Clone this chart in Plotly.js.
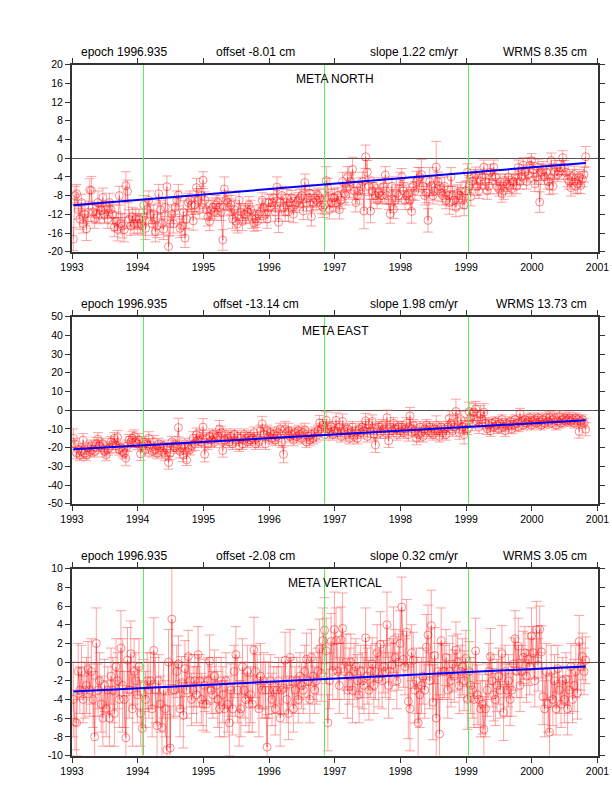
<!DOCTYPE html>
<html><head><meta charset="utf-8">
<script src="https://cdn.plot.ly/plotly-3.0.1.min.js"></script>
<style>html,body{margin:0;padding:0;background:#fff}</style></head>
<body><div id="chart" style="width:612px;height:792px"></div>
<script>
const epochs1993=[1993.02,1993.045,1993.07,1993.095,1993.12,1993.145,1993.17,1993.195,1993.22,1993.245,1993.27,1993.295,1993.32,1993.345,1993.37,1993.395,1993.42,1993.445,1993.47,1993.495,1993.52,1993.545,1993.57,1993.595,1993.62,1993.645,1993.67,1993.695,1993.72,1993.745,1993.77,1993.795,1993.82,1993.845,1993.87,1993.895,1993.92,1993.945,1993.97,1993.995];
const epochs1994=[1994.02,1994.045,1994.07,1994.095,1994.12,1994.145,1994.17,1994.195,1994.22,1994.245,1994.27,1994.295,1994.32,1994.345,1994.37,1994.395,1994.42,1994.445,1994.47,1994.495,1994.52,1994.545,1994.57,1994.595,1994.62,1994.645,1994.67,1994.695,1994.72,1994.745,1994.77,1994.795,1994.82,1994.845,1994.87,1994.895,1994.92,1994.945,1994.97,1994.995];
const epochs1995=[1995.02,1995.045,1995.07,1995.095,1995.12,1995.145,1995.17,1995.195,1995.22,1995.245,1995.27,1995.295,1995.32,1995.345,1995.37,1995.395,1995.42,1995.445,1995.47,1995.495,1995.52,1995.545,1995.57,1995.595,1995.62,1995.645,1995.67,1995.695,1995.72,1995.745,1995.77,1995.795,1995.82,1995.845,1995.87,1995.895,1995.92,1995.945,1995.97,1995.995];
const epochs1996=[1996.02,1996.045,1996.07,1996.095,1996.12,1996.145,1996.17,1996.195,1996.22,1996.245,1996.27,1996.295,1996.32,1996.345,1996.37,1996.395,1996.42,1996.445,1996.47,1996.495,1996.52,1996.545,1996.57,1996.595,1996.62,1996.645,1996.67,1996.695,1996.72,1996.745,1996.77,1996.795,1996.82,1996.845,1996.87,1996.895,1996.92,1996.945,1996.97,1996.995];
const epochs1997=[1997.02,1997.045,1997.07,1997.095,1997.12,1997.145,1997.17,1997.195,1997.22,1997.245,1997.27,1997.295,1997.32,1997.345,1997.37,1997.395,1997.42,1997.445,1997.47,1997.495,1997.52,1997.545,1997.57,1997.595,1997.62,1997.645,1997.67,1997.695,1997.72,1997.745,1997.77,1997.795,1997.82,1997.845,1997.87,1997.895,1997.92,1997.945,1997.97,1997.995];
const epochs1998=[1998.02,1998.045,1998.07,1998.095,1998.12,1998.145,1998.17,1998.195,1998.22,1998.245,1998.27,1998.295,1998.32,1998.345,1998.37,1998.395,1998.42,1998.445,1998.47,1998.495,1998.52,1998.545,1998.57,1998.595,1998.62,1998.645,1998.67,1998.695,1998.72,1998.745,1998.77,1998.795,1998.82,1998.845,1998.87,1998.895,1998.92,1998.945,1998.97,1998.995];
const epochs1999=[1999.02,1999.045,1999.07,1999.095,1999.12,1999.145,1999.17,1999.195,1999.22,1999.245,1999.27,1999.295,1999.32,1999.345,1999.37,1999.395,1999.42,1999.445,1999.47,1999.495,1999.52,1999.545,1999.57,1999.595,1999.62,1999.645,1999.67,1999.695,1999.72,1999.745,1999.77,1999.795,1999.82,1999.845,1999.87,1999.895,1999.92,1999.945,1999.97,1999.995];
const epochs2000=[2000.02,2000.045,2000.07,2000.095,2000.12,2000.145,2000.17,2000.195,2000.22,2000.245,2000.27,2000.295,2000.32,2000.345,2000.37,2000.395,2000.42,2000.445,2000.47,2000.495,2000.52,2000.545,2000.57,2000.595,2000.62,2000.645,2000.67,2000.695,2000.72,2000.745,2000.77,2000.795,2000.82];

const north1993=[-17.3,-8,-7.6,-11,-13,-9.5,-14,-12,-15.1,-11.6,-6.8,-6.9,-11.5,-13,-12,-9.5,-12,-11.2,-8.4,-12,-11,-13,-9.5,-11,-12,-14.8,-13.5,-15.2,-8,-14,-14.5,-15.3,-5.9,-7.1,-13,-14.5,-12.5,-14,-13,-14];
const north1994=[-13,-14,-14.5,-10,-15,-11,-9,-12,-14,-12,-15.7,-14.5,-7.6,-11,-14,-15.2,-10.5,-6.1,-18.9,-14,-12,-14,-10.5,-9,-7.9,-15,-14.5,-11.5,-17.1,-13,-9.5,-9,-10,-13.4,-10,-6.3,-9,-11,-8,-4.7];
const north1995=[-9,-11,-12.5,-13.5,-11,-10.5,-11.5,-10,-9.5,-10.5,-11.5,-17.5,-6.6,-9,-9.5,-10.5,-10,-13,-11,-13.5,-14,-9,-11.5,-13.5,-12,-12,-11.5,-10,-11,-13,-13.8,-13,-13.5,-12,-11.5,-9,-10.5,-12,-13,-9.5];
const north1996=[-10.5,-9.5,-8.5,-11.5,-6.2,-13.7,-9.5,-8,-10.5,-11.5,-8.5,-11.5,-9.5,-8.5,-12,-10,-9.5,-9,-8.5,-8,-11.3,-5.2,-9.5,-8.5,-7.5,-12.5,-9.5,-8.5,-9,-8,-8.5,-10,-10.5,-10,-4.8,-6.5,-11,-9.5,-8.5,-8.5];
const north1997=[-9.5,-8,-11,-9,-5,-7.5,-8,-4,-6,-5,-2.4,-7,-9.5,-8,-7,-6,-5,-11.3,0.3,-3,-6,-11.3,-7,-6,-8,-9,-7.5,-8,-8,-6,-3.6,-8,-9,-11.9,-6,-10.9,-9,-7.5,-8,-5];
const north1998=[-4,-7,-9,-8,-7.5,-9,-11.4,-6,-7,-5,-4.5,-4,-3.5,-6,-8,-7.5,-13.3,-5,-6,-8,-7,-1.9,-5,-6,-7.5,-8,-6,-9,-8,-9.5,-4,-8,-9,-10.5,-7.5,-8,-7,-9,-10,-7];
const north1999=[-3,-6,-8.2,-5,-4,-3.5,-6,-7,-5,-4,-1.9,-5,-7,-6,-3,-4,-1.9,-4,-6,-6.5,-5,-7.6,-7,-5,-5.5,-4,-6,-6.5,-5,-4,-6,-2,-5,-4,-1.5,-3,-5,-3.5,-1.5,-0.5];
const north2000=[-2.5,-5.5,-4,-2,-9.4,-3,-2.5,-4,-3,-5,-6,-0.5,-6,-3,-2,-3.5,-3,-2,0.1,-2,-3,-4.5,-5,-6.3,-4,-3.5,-6,-5.5,-4,-5.8,-4.5,-3.5,0.3];

const sigN1993=[2.5,2,2,2,2.2,1.8,2,2,2.5,2,2.4,3,2,2,2,2.5,1.8,1.8,2,2,1.8,2,2,1.8,2,2,2,2.5,2,2.2,2.6,2.6,3,2.4,2,2,2,2.2,2.2,2];
const sigN1994=[2,2.2,2,2,2.4,2,2,2,2.5,2,2.2,2.5,2,2,2.4,2.2,2,2.3,2.2,2.5,2,2,2,2,2.3,2,2,2.4,2,2,2,2,2,2,2,2,2.5,2,2,1.8];
const sigN1995=[1.8,2,2,2,2,2,1.8,2,2,2,1.8,2.2,2.6,2,1.6,1.8,2,2,2,2,2,2,1.8,2,1.8,2,1.8,1.8,2,2,1.8,1.8,2,1.8,1.6,1.6,1.8,1.8,2,1.8];
const sigN1996=[1.8,1.8,1.8,2,2.2,2.2,1.8,2,1.8,2,1.8,2,1.8,1.6,1.8,1.6,1.6,1.6,1.8,1.6,1.8,1.8,1.8,1.8,1.8,2,1.8,1.6,2,1.6,1.8,1.8,2.2,2,3,2.2,2,2,1.8,2];
const sigN1997=[1.8,1.8,2,1.8,2,2,2,2.2,2.4,2,2.6,1.8,2,1.8,1.8,1.8,2,3.8,2.5,2.5,2,2.5,1.8,1.8,1.6,1.8,1.8,1.6,1.8,1.8,1.8,1.8,2,2,2,2,2,1.8,1.8,2];
const sigN1998=[1.8,1.8,2,1.8,2,2,2.5,2,2,2.2,2.5,2,3.2,2,2,2,2.5,3,2,1.8,2,5.5,2,1.8,1.8,2,2,1.8,2,2.5,2,2,2,2,1.8,1.6,1.8,1.8,2.3,2];
const sigN1999=[1.8,1.8,2,1.8,1.6,1.6,2,1.6,1.6,1.6,1.5,1.6,1.8,1.6,1.6,1.6,1.5,1.6,1.6,1.6,1.6,1.8,1.8,1.6,1.6,1.6,1.6,1.6,1.5,1.6,1.6,1.6,1.6,1.6,1.6,1.6,1.6,1.6,1.6,1.5];
const sigN2000=[1.6,1.6,1.6,1.8,2.2,1.8,1.8,1.6,1.6,1.6,1.8,1.6,1.6,1.6,1.5,1.5,1.5,1.5,1.5,1.5,1.5,1.6,1.6,1.8,1.6,1.8,1.6,2,1.6,1.8,1.6,1.6,2.2];

const east1993=[-15,-18,-23,-21,-24,-22,-16,-23,-24,-20,-22,-19,-21,-22,-18,-15.5,-19,-20,-18,-22,-24,-21,-20,-17,-18,-15,-19,-14.6,-21,-20,-22,-23,-25.7,-19,-16,-17,-15,-14,-17,-18];
const east1994=[-16,-23.4,-19,-17,-21,-18,-15,-20,-22,-17,-21,-23,-18,-20,-22,-19,-24,-21,-28,-23,-17,-19,-20,-19,-9.3,-22,-20,-24,-18,-26.6,-20,-21,-19,-15,-18,-13,-16,-14,-17,-9];
const east1995=[-23.6,-15,-18,-14,-16,-13,-17,-15,-14,-10,-12,-21.6,-16,-13,-15,-17,-14,-18,-13,-16,-14,-19,-15,-18,-13,-15,-17,-14,-16,-15,-12,-18,-15,-17,-11,-7.3,-13,-18,-11,-14];
const east1996=[-12,-15,-13,-16,-14,-12,-10,-17,-23.6,-10,-12,-11,-14,-13,-16,-12,-14,-11,-13,-15,-12,-10.5,-17,-14,-16,-13,-15,-12,-14,-11,-6.8,-10,-8,-13,-5.4,-10,-12,-9,-13,-11];
const east1997=[-5.4,-12,-9,-14,-6,-11,-13,-10,-15,-12,-9,-14,-12,-15,-10,-12,-9,-11,-5.7,-14,-8,-11,-6,-13,-18.6,-10,-9,-12,-8,-10,-12,-4,-16.4,-9,-11,-7,-10,-13,-9,-11];
const east1998=[-9,-12,-10,-7,-13,-3,-10,-8,-11,-15,-13,-9,-12,-14,-10,-8,-11,-9,-12,-13,-10,-8,-11,-14,-9,-12,-10,-13,-9,-4.3,-7,-11,-9,-0.7,-6,-12,-5,-9,-13,-8];
const east1999=[-10,-0.7,-4,-7,-1,0.7,-6,-9,-2,-5,-1,-7,-10,-8,-11,-7,-9,-6,-8,-10,-7,-5,-9,-11,-7,-8,-6,-10,-8,-5,-7,-9,-2,-6,-8,-5,-7,-6,-4,-8];
const east2000=[-6,-5,-7,-4,-6,-8,-5,-7,-4,-6,-3.8,-7,-5,-4,-8,-6,-3.4,-7,-5,-4,-6,-5,-4,-6,-5,-7,-4,-5,-11.4,-6,-5,-7,-10.2];

const sigE1993=[5,3,3,3,3,3,3.5,3,3,3,3,3,3,3,3.5,3.5,3,3,3,3,3,3,3,3,3,3,3.5,3.8,3,3,3,3,4,3,3,3,3.5,3.5,3,3];
const sigE1994=[3.5,3.5,3,3,3.5,3,3.5,3,3,3.5,3,3,3,3,3,3,3,3.5,3.5,3.5,3,3,3,3,5,3.5,3,3.5,3,3,3,3,3,3.5,3.5,3.5,3,3.5,3,4.5];
const sigE1995=[4,3,3,3,3.5,3,3,3,3,4.5,3.5,3.5,3,3,3,3,3,3,3,3,3,3,3,3,3,3,3,3,3,3,3,3,3,3,3,4,3,3,3,3];
const sigE1996=[3,3,3,3,3,3,3,3,4.5,4,3,4,3,3,3,3,3,3,3,3,3,3.5,3,3,3,3,3,3,3,3,4,3,3,3,4.5,3.5,3,3,3,3];
const sigE1997=[4,3,3,3,4,3,3,3,3,3,3,3,3,3,3,3,3,3,4,3,3,3.5,3.5,3,4,3,3,3,3,3,3,4,3.5,3,3,3,3,3,3,3];
const sigE1998=[3,3,3,3,3.5,4.5,3.5,3,3,3.5,3.5,3,3,3,3,3,3,3,3,3,3,5,3,3,3,3,3,3,3,4,4,3,3,6.6,4,3.5,4.5,3.5,5,4];
const sigE1999=[3,5,4.5,4,4.5,4,3.5,3.5,4.5,4,4.5,3,3,3,3,2.5,2.5,2.5,2.5,2.5,2.5,2.5,2.5,3,2.5,2.5,2.5,2.5,2.5,2.5,2.5,2.5,3,2.5,2.5,2.5,2.5,2.5,2.5,2.5];
const sigE2000=[2.5,2.5,2.5,2.5,2.5,2.5,2.5,2.5,2.5,2.5,3,2.5,2.5,2.5,2.5,2.5,3,2.5,2.5,2.5,2.5,2.5,3,2.5,2.5,2.5,2.5,2.5,3.5,2.5,2.5,2.5,3.5];

const vert1993=[-4,-6.4,-6.5,-1,-3,-1,-4,-3,-2.5,-0.8,-3,-1,-4,-8,2,-3,-2,-4.5,-6,-2.5,-5,-3,-6,-1.5,-3,-5.5,-0.5,-2,-4,1.5,-2.5,-4,-8.1,0.2,-3,0.9,-5,-1,-2,-3.5];
const vert1994=[-0.5,-5.5,-7.1,-2.5,-4,-2,-3,-2,-5,1.25,-3,-6.8,-2,-4.5,-7,-3,-5,-9.4,0,-9.2,4.6,-3,-3,-1,-0.2,-5,-2.2,-5.7,-0.7,-3,0.6,-2,-4,-3,-2,-3.5,0.8,-2,-4,-4.5];
const vert1995=[-2.5,-4.5,-2,0.1,-3,-3.5,-1.5,-2.5,-4,-5,-2,-3.5,-5,-2,-4.5,-6.5,-3,-5,-1,0.8,-3,-5.5,-5,-0.5,-3,-4,-1,-4.5,-3.5,-4.5,1.3,-1,-2,-5,-1.5,-3,-2,-3,-9.1,-3];
const vert1996=[-2,-4,-3,-5,-3,-2,-6,-3,-2.8,0.2,-4,-5.5,0.5,-2,-5,-3,-2,-4,-1.5,-2.5,-3,-1,0.3,-2,-4,0.5,-1.5,-3,-2,-1,1.4,-1.2,2.3,3.4,1.2,-6.5,-2,2.2,-1,3.5];
const vert1997=[2.3,-1,-2.5,2.4,3.6,-1,0,-3,-1.5,0,-3,-1,-0.5,-2,-3.5,-1,-2,-2.5,2.6,-1.5,-3,-1,-0.2,-2.5,-1,1,-1.8,1.9,-2,-0.5,-1,4,-2.5,-1,-0.3,2.4,0.5,-2,0,2];
const vert1998=[5.9,0.3,-0.5,3.2,-4.2,-5,1,0.2,-3,-2,-6.5,-3.5,-2.5,-1.5,-3,1.6,2.9,-2,3.9,-4.3,0.7,-6,-1,-7.7,2.3,-1,-1,0.5,-3,-1,-2,-0.2,-1.5,1.3,0,-2.5,-1,-0.5,-2,0.4];
const vert1999=[-4,-1,-2.5,-3,-4,1.2,-3.5,-4,-5,-4.5,-7.2,-5,-3,-1,0.6,-2,-3.5,-4,-2.5,-1.5,-3,0.9,-5.4,-1,-3,-2,-4,-3,-0.2,2.5,-1,1.7,-2.5,-1,0.5,1,-1.5,0.3,-0.5,2.8];
const vert2000=[1,-2,3.5,-0.3,3.5,1.1,-3.7,-5,-1,-4.5,-7.5,-1,-4,-2,-5,-0.7,-3,-4.5,-2,-4,-1.8,-5,-3,-0.5,-4,-2.5,-1,-3.3,2.2,-0.5,0.6,-1,0.2];

const sigV1993=[4,3,3.5,3,2.5,2.8,2.5,3,3,3,2.8,3.5,3,4.5,3.8,2.8,3,3,3,2.8,3,2.5,3,3,3.5,3.5,3,3,3,4,5,3,4.5,3.5,3,3.5,4,3.5,3,3];
const sigV1994=[3,3.5,3.5,2.8,3,3,3,3,3,3.5,3.5,3.5,2.8,3,3.5,3,3,3.8,3.5,4.5,7,3,2.8,2.8,3,3,2.8,3.5,3,3,2.8,2.8,2.8,2.5,2.8,3,3,2.8,2.8,2.8];
const sigV1995=[2.8,3,2.5,2.8,2.5,2.5,2.8,3,3,3,2.5,3,3,3,3,3.5,2.8,2.8,2.8,3,3.5,3.5,3,3,3,2.8,2.8,3,3,3,3.5,2.8,2.8,3,3.5,3,3,3,3.5,3];
const sigV1996=[2.8,2.8,2.5,2.8,2.5,2.5,3,2.5,2.8,3,2.5,2.8,3,2.5,2.5,2.5,2.5,2.5,2.5,2.5,2.5,2.8,2.8,2.5,2.5,3,2.5,2.5,2.5,2.5,3.2,3,3.5,3.5,3.5,3,3,3,3,4];
const sigV1997=[3.5,3,3,3.5,3.8,3,3,3,3,3,3.5,3,3,2.8,3,2.8,3,3,3.2,3,3.2,2.8,2.8,3,3,3,3,3.5,3,2.8,2.8,3.5,3.5,3,2.8,3.5,3,3,3,3.5];
const sigV1998=[3.2,3,3,3.5,4,4.5,3,3,3.5,3.5,4,3.5,3,3,3,3.5,3.2,3,3.8,4,3,4.5,3,4.2,3.5,3,2.8,3,3,3,2.8,3,2.8,3,3,3,2.8,3,3.2,3];
const sigV1999=[3.2,3.2,3,3,3,3.5,3.2,3,3,3.2,3.5,3,2.8,3,3,2.8,2.8,2.8,2.8,3,3,3,3,2.8,2.8,2.8,2.8,2.8,2.8,3,2.8,3,2.8,2.8,2.8,2.8,2.8,2.8,3,3];
const sigV2000=[2.8,2.8,3,2.8,2.5,2.8,3,3,3,3,3.5,2.8,2.8,2.8,2.8,2.5,2.5,2.5,2.5,2.5,2.8,2.8,2.5,2.5,2.5,2.8,2.8,2.8,2.8,2.5,2.5,2.5,2.5];

const epochs=[...epochs1993,...epochs1994,...epochs1995,...epochs1996,...epochs1997,...epochs1998,...epochs1999,...epochs2000];
const north=[...north1993,...north1994,...north1995,...north1996,...north1997,...north1998,...north1999,...north2000];
const east=[...east1993,...east1994,...east1995,...east1996,...east1997,...east1998,...east1999,...east2000];
const vertical=[...vert1993,...vert1994,...vert1995,...vert1996,...vert1997,...vert1998,...vert1999,...vert2000];
const sigmaN=[...sigN1993,...sigN1994,...sigN1995,...sigN1996,...sigN1997,...sigN1998,...sigN1999,...sigN2000];
const sigmaE=[...sigE1993,...sigE1994,...sigE1995,...sigE1996,...sigE1997,...sigE1998,...sigE1999,...sigE2000];
const sigmaV=[...sigV1993,...sigV1994,...sigV1995,...sigV1996,...sigV1997,...sigV1998,...sigV1999,...sigV2000];

const trendYears=[1993.02,2000.82];
const trendN=[-10.07,-1.0];
const trendE=[-20.9,-5.4];
const trendV=[-3.14,-0.46];
const breakYears=[1994.088,1996.844,1999.036];
const xTicks=[1993,1994,1995,1996,1997,1998,1999,2000,2001];
const yTicksN=[-20,-16,-12,-8,-4,0,4,8,12,16,20];
const yTicksE=[-50,-40,-30,-20,-10,0,10,20,30,40,50];
const yTicksV=[-10,-8,-6,-4,-2,0,2,4,6,8,10];

const W=612,H=792,L=72,R=597.5;
const FONT='"Liberation Sans", Arial, sans-serif';
const panels=[
 {name:'META NORTH',top:64.7,bot:251.7,y:north,s:sigmaN,trend:trendN,ticks:yTicksN,epoch:'epoch 1996.935',off:'offset -8.01 cm',offX:214,slope:'slope 1.22 cm/yr',wrms:'WRMS 8.35 cm'},
 {name:'META EAST',top:316.7,bot:503.7,y:east,s:sigmaE,trend:trendE,ticks:yTicksE,epoch:'epoch 1996.935',off:'offset -13.14 cm',offX:211,slope:'slope 1.98 cm/yr',wrms:'WRMS 13.73 cm'},
 {name:'META VERTICAL',top:568.7,bot:755.5,y:vertical,s:sigmaV,trend:trendV,ticks:yTicksV,epoch:'epoch 1996.935',off:'offset -2.08 cm',offX:214,slope:'slope 0.32 cm/yr',wrms:'WRMS 3.05 cm'}
];
const traces=[],annotations=[],layout={width:W,height:H,margin:{l:0,r:0,t:0,b:0},paper_bgcolor:'#fff',plot_bgcolor:'#fff',showlegend:false,font:{family:FONT,size:10,color:'#000'},annotations:annotations};
panels.forEach((p,i)=>{
  const k=i?String(i+1):'';
  const xa='x'+k,ya='y'+k;
  const lo=p.ticks[0],hi=p.ticks[p.ticks.length-1];
  layout['xaxis'+k]={domain:[L/W,R/W],range:[1993,2001],anchor:ya,tickvals:xTicks,ticktext:xTicks.map(String),ticks:'outside',ticklen:5,tickwidth:1,tickcolor:'#333',showgrid:false,zeroline:false,showline:true,linecolor:'#333',linewidth:2,mirror:'ticks',tickfont:{size:10.5,family:FONT,color:'#000'}};
  layout['yaxis'+k]={domain:[1-p.bot/H,1-p.top/H],range:[lo,hi],anchor:xa,tickvals:p.ticks,ticktext:p.ticks.map(String),ticks:'outside',ticklen:5,tickwidth:1,tickcolor:'#333',showgrid:false,zeroline:true,zerolinecolor:'#555',zerolinewidth:1,showline:true,linecolor:'#333',linewidth:2,mirror:'ticks',tickfont:{size:10.5,family:FONT,color:'#000'}};
  traces.push({type:'scatter',mode:'lines+markers',xaxis:xa,yaxis:ya,x:epochs,y:p.y,
    error_y:{type:'data',array:p.s,visible:true,color:'rgba(255,90,90,0.55)',thickness:1,width:5},
    line:{color:'rgba(255,0,0,0.55)',width:0.7},
    marker:{symbol:'circle-open',size:8,color:'rgba(255,0,0,0.65)',line:{width:0.7,color:'rgba(255,0,0,0.65)'}},cliponaxis:true,hoverinfo:'skip'});
  const bx=[],by=[];
  breakYears.forEach(b=>{bx.push(b,b,null);by.push(lo,hi,null);});
  traces.push({type:'scatter',mode:'lines',xaxis:xa,yaxis:ya,x:bx,y:by,line:{color:'#55ee55',width:1},hoverinfo:'skip'});
  traces.push({type:'scatter',mode:'lines',xaxis:xa,yaxis:ya,x:trendYears,y:p.trend,line:{color:'#0000ff',width:2},hoverinfo:'skip'});
  const yTop=1-(p.top-12.5)/H;
  const base={xref:'paper',yref:'paper',showarrow:false,yanchor:'middle',font:{size:12,family:FONT,color:'#000'},y:yTop};
  annotations.push({...base,text:p.epoch,x:79/W,xanchor:'left'});
  annotations.push({...base,text:p.off,x:p.offX/W,xanchor:'left'});
  annotations.push({...base,text:p.slope,x:368/W,xanchor:'left'});
  annotations.push({...base,text:p.wrms,x:589/W,xanchor:'right'});
  annotations.push({...base,text:p.name,x:335/W,xanchor:'center',y:1-(p.top+14.5)/H});
});
Plotly.newPlot('chart',traces,layout,{staticPlot:true,displayModeBar:false});
</script></body></html>
